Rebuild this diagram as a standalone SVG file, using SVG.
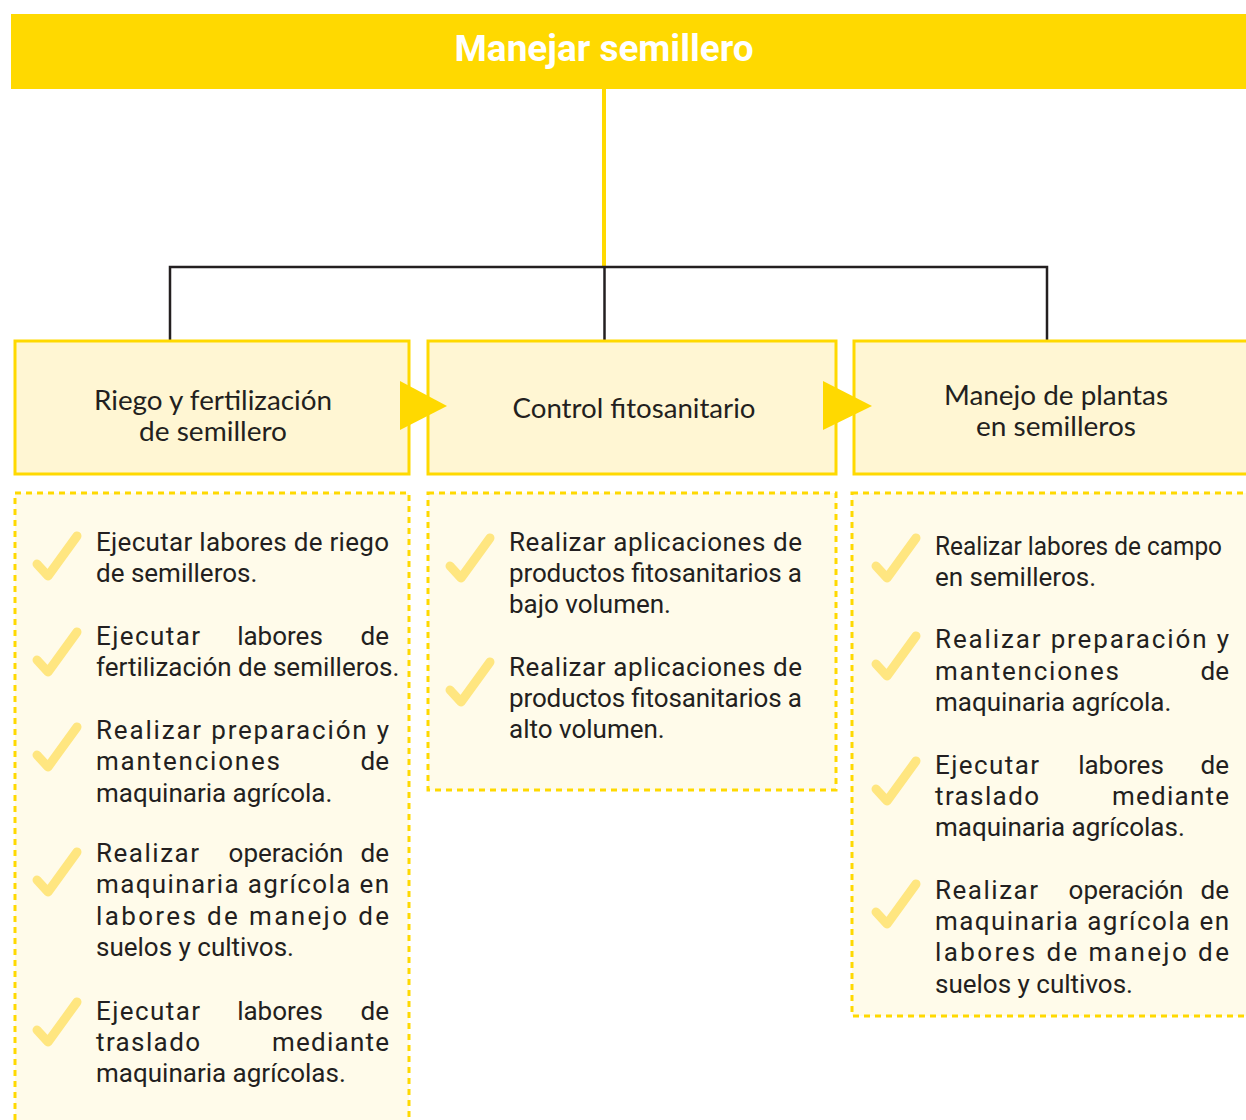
<svg xmlns="http://www.w3.org/2000/svg" xmlns:xlink="http://www.w3.org/1999/xlink" width="1246" height="1120" viewBox="0 0 1246 1120">
<style>
.box{fill:#FFF6D3;stroke:#FFD900;stroke-width:3}
.list{fill:#FFFBEA;stroke:#FFD900;stroke-width:3;stroke-dasharray:6 5}
.ht{font-family:Lato,"Open Sans",sans-serif;font-size:27px;fill:#231F20;text-anchor:middle}
.li{font-family:Roboto,"Liberation Sans",sans-serif;font-size:26px;fill:#231F20}
.tree{fill:none;stroke:#231F20;stroke-width:2.5}
.m{text-anchor:middle}
.e{text-anchor:end}
</style>
<defs>
<path id="chk" d="M5,33 L16,45 L45,5" fill="none" stroke="#FFE680" stroke-width="9" stroke-linecap="round" stroke-linejoin="round"/>
</defs>
<rect width="1246" height="1120" fill="#FFFFFF"/>

<g id="connectors">
<line x1="604" y1="88" x2="604" y2="267" stroke="#FFD900" stroke-width="4"/>
<polyline class="tree" points="170,341 170,267 1047,267 1047,341"/>
<line class="tree" x1="604.5" y1="267" x2="604.5" y2="341"/>
</g>

<g id="title">
<rect x="11" y="14" width="1240" height="75" fill="#FFD900"/>
<text x="604" y="61" font-family="Roboto,'Liberation Sans',sans-serif" font-weight="700" font-size="36" fill="#FFFFFF" text-anchor="middle" textLength="299" lengthAdjust="spacingAndGlyphs">Manejar semillero</text>
</g>

<g id="node-riego">
<rect class="box" x="15" y="341" width="394" height="133"/>
<text class="ht" x="213" y="410" textLength="238" lengthAdjust="spacingAndGlyphs">Riego y fertilización</text>
<text class="ht" x="213" y="441" textLength="148" lengthAdjust="spacingAndGlyphs">de semillero</text>
</g>

<g id="node-control">
<rect class="box" x="428" y="341" width="408" height="133"/>
<text class="ht" x="634" y="418" textLength="243" lengthAdjust="spacingAndGlyphs">Control fitosanitario</text>
</g>

<g id="node-manejo">
<rect class="box" x="854" y="341" width="400" height="133"/>
<text class="ht" x="1056" y="405" textLength="224" lengthAdjust="spacingAndGlyphs">Manejo de plantas</text>
<text class="ht" x="1056" y="436" textLength="160" lengthAdjust="spacingAndGlyphs">en semilleros</text>
</g>

<g id="arrows">
<polygon points="400,381 447,406 400,430" fill="#FFD900"/>
<polygon points="823,381 872,406 823,430" fill="#FFD900"/>
</g>

<g id="list-riego">
<rect class="list" x="15" y="493" width="394" height="640"/>
<use xlink:href="#chk" x="32" y="531"/>
<use xlink:href="#chk" x="32" y="627"/>
<use xlink:href="#chk" x="32" y="722"/>
<use xlink:href="#chk" x="32" y="847"/>
<use xlink:href="#chk" x="32" y="997"/>
<text class="li" x="96" y="551" textLength="293" lengthAdjust="spacing">Ejecutar labores de riego</text>
<text class="li" x="96" y="582">de semilleros.</text>
<text class="li" y="645"><tspan x="96" textLength="104" lengthAdjust="spacing">Ejecutar</tspan><tspan class="m" x="280">labores</tspan><tspan class="e" x="389">de</tspan></text>
<text class="li" x="96" y="676">fertilización de semilleros.</text>
<text class="li" x="96" y="739" textLength="293" lengthAdjust="spacing">Realizar preparación y</text>
<text class="li" y="770"><tspan x="96" textLength="184" lengthAdjust="spacing">mantenciones</tspan><tspan class="e" x="389">de</tspan></text>
<text class="li" x="96" y="802">maquinaria agrícola.</text>
<text class="li" y="862"><tspan x="96" textLength="103" lengthAdjust="spacing">Realizar</tspan><tspan class="m" x="286">operación</tspan><tspan class="e" x="389">de</tspan></text>
<text class="li" x="96" y="893" textLength="293" lengthAdjust="spacing">maquinaria agrícola en</text>
<text class="li" x="96" y="925" textLength="293" lengthAdjust="spacing">labores de manejo de</text>
<text class="li" x="96" y="956">suelos y cultivos.</text>
<text class="li" y="1020"><tspan x="96" textLength="104" lengthAdjust="spacing">Ejecutar</tspan><tspan class="m" x="280">labores</tspan><tspan class="e" x="389">de</tspan></text>
<text class="li" y="1051"><tspan x="96" textLength="104" lengthAdjust="spacing">traslado</tspan><tspan class="e" x="389" textLength="117" lengthAdjust="spacing">mediante</tspan></text>
<text class="li" x="96" y="1082">maquinaria agrícolas.</text>
</g>

<g id="list-control">
<rect class="list" x="428" y="493" width="408" height="297"/>
<use xlink:href="#chk" x="445" y="533"/>
<use xlink:href="#chk" x="445" y="657"/>
<text class="li" x="509" y="551" textLength="293" lengthAdjust="spacing">Realizar aplicaciones de</text>
<text class="li" x="509" y="582" textLength="293" lengthAdjust="spacing">productos fitosanitarios a</text>
<text class="li" x="509" y="613">bajo volumen.</text>
<text class="li" x="509" y="676" textLength="293" lengthAdjust="spacing">Realizar aplicaciones de</text>
<text class="li" x="509" y="707" textLength="293" lengthAdjust="spacing">productos fitosanitarios a</text>
<text class="li" x="509" y="738">alto volumen.</text>
</g>

<g id="list-manejo">
<rect class="list" x="852" y="493" width="402" height="523"/>
<use xlink:href="#chk" x="871" y="533"/>
<use xlink:href="#chk" x="871" y="631"/>
<use xlink:href="#chk" x="871" y="756"/>
<use xlink:href="#chk" x="871" y="879"/>
<text class="li" x="935" y="555" textLength="287" lengthAdjust="spacingAndGlyphs">Realizar labores de campo</text>
<text class="li" x="935" y="586">en semilleros.</text>
<text class="li" x="935" y="648" textLength="294" lengthAdjust="spacing">Realizar preparación y</text>
<text class="li" y="680"><tspan x="935" textLength="184" lengthAdjust="spacing">mantenciones</tspan><tspan class="e" x="1229">de</tspan></text>
<text class="li" x="935" y="711">maquinaria agrícola.</text>
<text class="li" y="774"><tspan x="935" textLength="104" lengthAdjust="spacing">Ejecutar</tspan><tspan class="m" x="1121">labores</tspan><tspan class="e" x="1229">de</tspan></text>
<text class="li" y="805"><tspan x="935" textLength="104" lengthAdjust="spacing">traslado</tspan><tspan class="e" x="1229" textLength="117" lengthAdjust="spacing">mediante</tspan></text>
<text class="li" x="935" y="836">maquinaria agrícolas.</text>
<text class="li" y="899"><tspan x="935" textLength="103" lengthAdjust="spacing">Realizar</tspan><tspan class="m" x="1126">operación</tspan><tspan class="e" x="1229">de</tspan></text>
<text class="li" x="935" y="930" textLength="294" lengthAdjust="spacing">maquinaria agrícola en</text>
<text class="li" x="935" y="961" textLength="294" lengthAdjust="spacing">labores de manejo de</text>
<text class="li" x="935" y="993">suelos y cultivos.</text>
</g>
</svg>
